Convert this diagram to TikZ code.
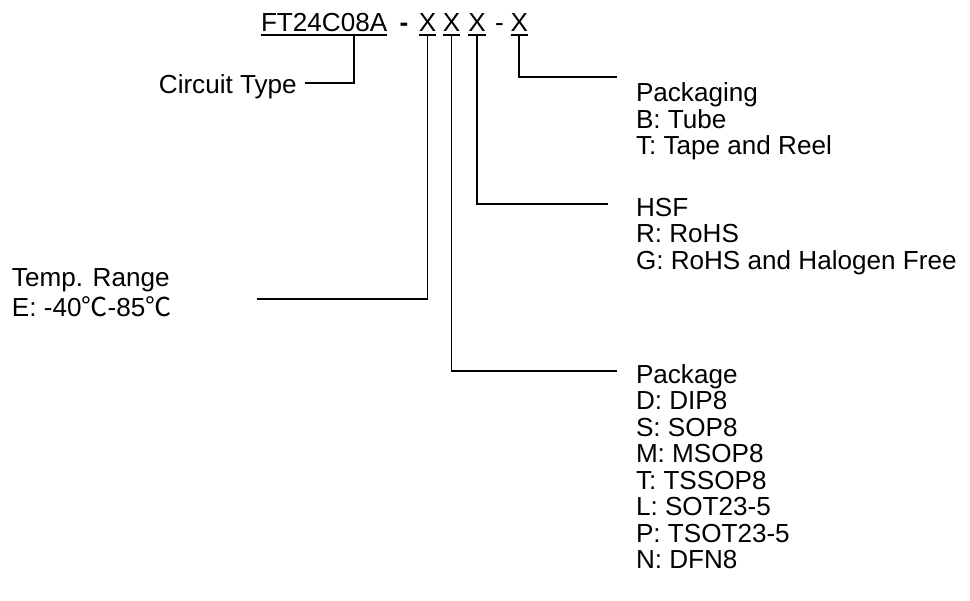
\documentclass[tikz,border=0pt]{standalone}
\usepackage{fontspec}
\setmainfont{Liberation Sans}
\newfontfamily\cjk{Noto Sans CJK SC}
\begin{document}
\begin{tikzpicture}[x=1pt,y=-1pt,
  txt/.style={inner sep=0pt, outer sep=0pt, font=\fontsize{26.1}{27}\selectfont},
  conn/.style={line width=1.8pt},
  uline/.style={line width=1.4pt}]
\useasboundingbox (0,0) rectangle (970,601);
% title
\node[txt,anchor=base west] (ft) at (261,31.7) {FT24C08A};
\node[txt,anchor=base] (d1) at (404,31.7) {\bfseries -};
\node[txt,anchor=base] (x1) at (427.5,31.7) {X};
\node[txt,anchor=base] (x2) at (451.5,31.7) {X};
\node[txt,anchor=base] (x3) at (477,31.7) {X};
\node[txt,anchor=base] (d2) at (499.5,31.7) {-};
\node[txt,anchor=base] (x4) at (519.3,31.7) {X};
\foreach \n in {ft,x1,x2,x3,x4}
  \draw[uline] ([yshift=-3.5pt]\n.base west) -- ([yshift=-3.5pt]\n.base east);
% labels
\node[txt,anchor=base east] (ct) at (296.7,93.3) {Circuit Type};
\node[txt,anchor=base west] (pk1) at (636,101.6) {Packaging};
\node[txt,anchor=base west] (pk2) at (636,128.1) {B: Tube};
\node[txt,anchor=base west] (pk3) at (636,154.6) {T: Tape and Reel};
\node[txt,anchor=base west] (hs1) at (636,216.5) {HSF};
\node[txt,anchor=base west] (hs2) at (636,243) {R: RoHS};
\node[txt,anchor=base west] (hs3) at (636,269.5) {G: RoHS and Halogen Free};
\node[txt,anchor=base west] (tr1) at (12,286.7) {Temp. Range};
\node[txt,anchor=base west] (tr2) at (12,316.7) {E: -40{\cjk ℃}-85{\cjk ℃}};
\foreach \t [count=\i from 0] in {Package,D: DIP8,S: SOP8,M: MSOP8,T: TSSOP8,L: SOT23-5,P: TSOT23-5,N: DFN8}
  \node[txt,anchor=base west] (pa\i) at (636,383.3+26.5*\i) {\t};
% connector points
\coordinate (tk0) at (353.7,35.2);
\coordinate (ce0) at (305,83.3);
\coordinate (ce1) at (256.7,299.3);
\coordinate (ce2) at (616.7,371);
\coordinate (ce3) at (608,204);
\coordinate (ce4) at (617,77);
% connectors
\draw[conn] (tk0) |- (ce0);
\draw[conn] ([yshift=-3.5pt]x1.base) |- (ce1);
\draw[conn] ([yshift=-3.5pt]x2.base) |- (ce2);
\draw[conn] ([yshift=-3.5pt]x3.base) |- (ce3);
\draw[conn] ([yshift=-3.5pt]x4.base) |- (ce4);
\end{tikzpicture}
\end{document}
